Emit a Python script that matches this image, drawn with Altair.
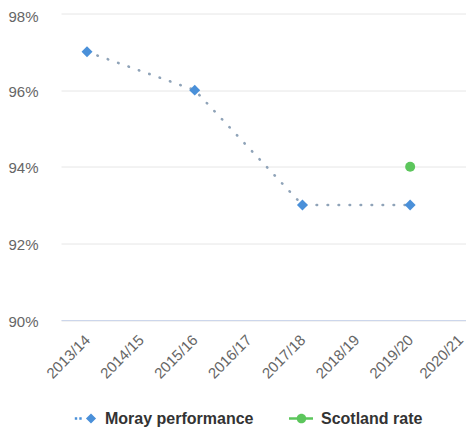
import altair as alt
import pandas as pd

# ---- data ----
years = ["2013/14", "2014/15", "2015/16", "2016/17", "2017/18", "2018/19", "2019/20", "2020/21"]
moray_years = ["2013/14", "2015/16", "2017/18", "2019/20"]
moray_values = [97, 96, 93, 93]
scotland_years = ["2019/20"]
scotland_values = [94]
series_names = ["Moray performance", "Scotland rate"]
y_ticks = [90, 92, 94, 96, 98]

moray_df = pd.DataFrame({"year": moray_years, "value": moray_values})
scot_df = pd.DataFrame({"year": scotland_years, "value": scotland_values})
legend_df = pd.DataFrame({"series": series_names})

BLUE = "#4a90d9"
GREEN = "#5cc65c"
DOT = "#8fa3b8"
FONT = "Liberation Sans"

x_scale = alt.Scale(domain=years, type="point", padding=0.26, align=0.929, round=False)
y_scale = alt.Scale(domain=[90, 98], nice=False, zero=False)

x_axis = alt.Axis(
    title=None, labelAngle=-45, labelAlign="right", labelBaseline="middle",
    labelPadding=17, ticks=False, tickSize=0, grid=False, domain=True,
    domainColor="#ccd6eb", domainWidth=1, labelFont=FONT, labelFontSize=15,
    labelColor="#666666", labelOverlap=False, labelBound=False,
    labelOffset={"condition": {"test": "datum.value == '2020/21'", "value": -4}, "value": 0},
)
y_axis = alt.Axis(
    title=None, values=y_ticks, labelExpr="datum.value + '%'", ticks=False,
    tickSize=0, domain=False, grid=True, gridColor="#e6e6e6", gridWidth=1,
    labelPadding=23, labelFont=FONT, labelFontSize=15, labelColor="#666666",
    labelOffset={"condition": {"test": "datum.value == 98", "value": 3}, "value": 1},
)

X = alt.X("year:N", scale=x_scale, axis=x_axis, sort=years)
Y = alt.Y("value:Q", scale=y_scale, axis=y_axis)

line = alt.Chart(moray_df).mark_line(
    color=DOT, strokeWidth=2.6, strokeDash=[0.5, 10.5], strokeCap="round"
).encode(x=X, y=Y)

moray_pts = alt.Chart(moray_df).mark_point(
    filled=True, shape="diamond", size=120, color=BLUE, opacity=1
).encode(x=X, y=Y)

scot_pts = alt.Chart(scot_df).mark_point(
    filled=True, shape="circle", size=100, color=GREEN, opacity=1
).encode(x=X, y=Y)

moray_sym = ("M-0.85,-0.1h0.2v0.2h-0.2Z M-0.475,-0.1h0.2v0.2h-0.2Z "
             "M0.08,0L0.5,-0.42L0.92,0L0.5,0.42Z")
scot_sym = ("M-1,-0.1H1V0.1H-1Z "
            "M-0.36,0A0.4,0.4 0 1,1 0.44,0A0.4,0.4 0 1,1 -0.36,0Z")

leg = alt.Legend(
    title=None, orient="none", legendX=12, legendY=393, direction="horizontal",
    symbolSize=576, symbolStrokeWidth=0, labelFontSize=16, labelFontWeight="bold",
    labelColor="#333333", labelFont=FONT, labelOffset=8, columnPadding=35,
)

legend_layer = alt.Chart(legend_df).transform_filter("false").mark_point(
    filled=True, opacity=1
).encode(
    color=alt.Color("series:N", scale=alt.Scale(domain=series_names, range=[BLUE, GREEN]), legend=leg),
    shape=alt.Shape("series:N", scale=alt.Scale(domain=series_names, range=[moray_sym, scot_sym]), legend=leg),
)

chart = alt.layer(line, moray_pts, scot_pts, legend_layer).properties(
    width=405, height=306.5,
    autosize=alt.AutoSizeParams(type="none"),
    padding={"left": 53, "top": 5.5, "right": 0, "bottom": 108},
).configure_view(stroke=None)

chart.save("out.html", embed_options={"renderer": "svg", "actions": False})
